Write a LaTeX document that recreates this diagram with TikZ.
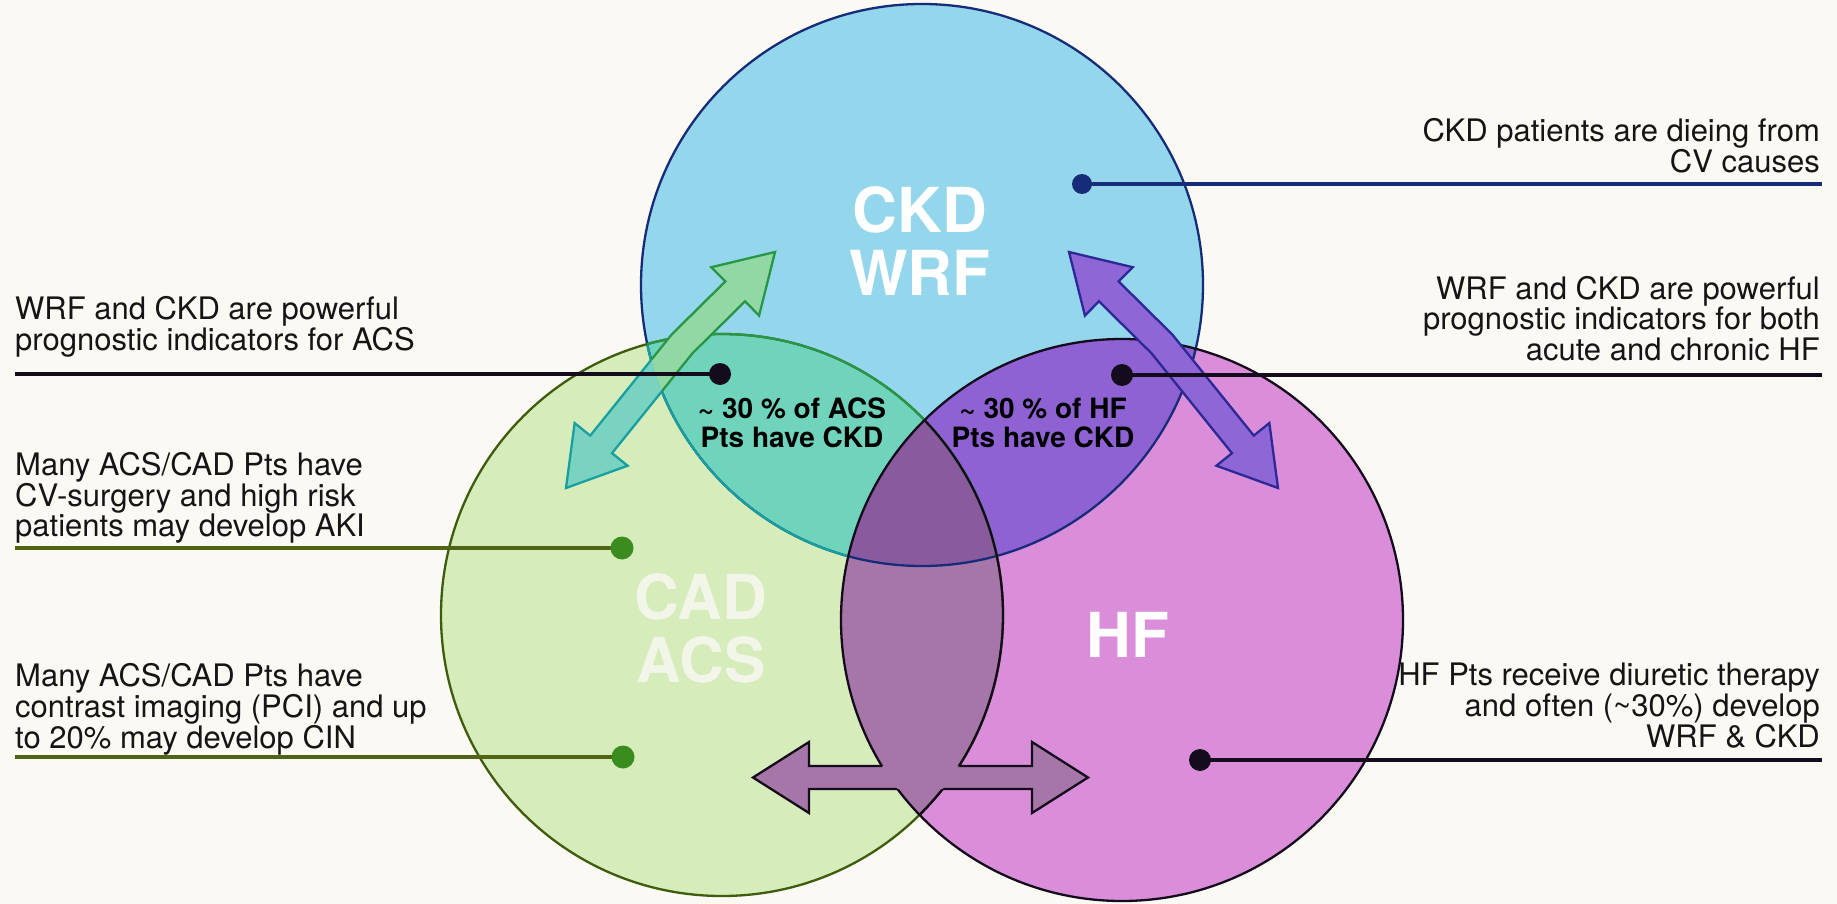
\documentclass[tikz,border=0pt]{standalone}
\usepackage{fontspec}
\setmainfont{TeX Gyre Heros}
\usetikzlibrary{calc}
\definecolor{bg}{RGB}{251,249,243}
\definecolor{cblue}{RGB}{148,214,236}
\definecolor{cgreen}{RGB}{214,236,186}
\definecolor{cmag}{RGB}{218,142,218}
\definecolor{cbg}{RGB}{112,212,188}
\definecolor{cbm}{RGB}{142,98,210}
\definecolor{cgm}{RGB}{166,118,168}
\definecolor{cbgm}{RGB}{138,90,158}
\definecolor{lblue}{RGB}{22,44,120}
\definecolor{lgreen}{RGB}{62,92,14}
\definecolor{lgreen2}{RGB}{40,150,70}
\definecolor{lteal}{RGB}{24,160,160}
\definecolor{ldark}{RGB}{20,12,28}
\definecolor{arrG}{RGB}{146,216,164}
\definecolor{arrT}{RGB}{122,210,192}
\definecolor{arrP}{RGB}{142,102,214}
\definecolor{arrPl}{RGB}{44,40,150}
\definecolor{dotG}{RGB}{58,140,30}
\definecolor{ruleG}{RGB}{80,100,20}
\definecolor{txt}{RGB}{22,20,20}
\definecolor{paleW}{RGB}{242,246,233}

% bent double arrow: #1 prefix, #2 lower tip, #3 bend, #4 upper tip, #5 shaft half width, #6 head half width, #7 head length
\newcommand\mkbent[7]{%
 \coordinate (#1db) at ($(#2)!#7!(#3)$);
 \coordinate (#1ub) at ($(#4)!#7!(#3)$);
 \coordinate (#1dh1) at ($(#1db)!#6!90:(#3)$);
 \coordinate (#1dh2) at ($(#1db)!#6!-90:(#3)$);
 \coordinate (#1ds1) at ($(#1db)!#5!90:(#3)$);
 \coordinate (#1ds2) at ($(#1db)!#5!-90:(#3)$);
 \coordinate (#1kd1) at ($(#3)!#5!-90:(#2)$);
 \coordinate (#1kd2) at ($(#3)!#5!90:(#2)$);
 \coordinate (#1ku1) at ($(#3)!#5!90:(#4)$);
 \coordinate (#1ku2) at ($(#3)!#5!-90:(#4)$);
 \coordinate (#1us1) at ($(#1ub)!#5!90:(#4)$);
 \coordinate (#1us2) at ($(#1ub)!#5!-90:(#4)$);
 \coordinate (#1uh1) at ($(#1ub)!#6!90:(#4)$);
 \coordinate (#1uh2) at ($(#1ub)!#6!-90:(#4)$);
 \coordinate (#1m1) at (intersection of #1ds1--#1kd1 and #1ku1--#1us1);
 \coordinate (#1m2) at (intersection of #1ds2--#1kd2 and #1ku2--#1us2);
}
\newcommand\bentdraw[4]{%
 \path[#4] (#2) -- (#1dh1) -- (#1ds1) -- (#1m1) -- (#1us1) -- (#1uh1) -- (#3) -- (#1uh2) -- (#1us2) -- (#1m2) -- (#1ds2) -- (#1dh2) -- cycle;
}
% straight double arrow
\newcommand\mkdblarrow[6]{%
 \coordinate (#1b) at ($(#2)!#6!(#3)$);
 \coordinate (#1e) at ($(#3)!#6!(#2)$);
 \coordinate (#1p1) at ($(#1b)!#5!90:(#3)$);
 \coordinate (#1p2) at ($(#1b)!#4!90:(#3)$);
 \coordinate (#1p3) at ($(#1e)!#4!90:(#3)$);
 \coordinate (#1p4) at ($(#1e)!#5!90:(#3)$);
 \coordinate (#1p5) at ($(#1e)!#5!-90:(#3)$);
 \coordinate (#1p6) at ($(#1e)!#4!-90:(#3)$);
 \coordinate (#1p7) at ($(#1b)!#4!-90:(#3)$);
 \coordinate (#1p8) at ($(#1b)!#5!-90:(#3)$);
}
\newcommand\dblarrowdraw[4]{%
 \path[#4] (#2) -- (#1p1) -- (#1p2) -- (#1p3) -- (#1p4) -- (#3) -- (#1p5) -- (#1p6) -- (#1p7) -- (#1p8) -- cycle;
}

\begin{document}
\begin{tikzpicture}[x=1pt,y=-1pt,
  lt/.style={inner sep=0pt, align=left, text=txt, font=\fontsize{31}{28}\selectfont},
  rt/.style={inner sep=0pt, align=right, text=txt, font=\fontsize{31}{28}\selectfont},
  bigl/.style={inner sep=0pt, align=center, font=\bfseries\fontsize{62}{63}\selectfont},
  innl/.style={inner sep=0pt, align=center, text=black, font=\bfseries\fontsize{28}{29}\selectfont},
  rulel/.style={line width=3.2pt},
  dotn/.style={circle, inner sep=0pt, minimum size=#1},
  outl/.style={line width=2.3pt, line join=miter}
]
\def\R{281pt}
\useasboundingbox (0,0) rectangle (1837,904);
\fill[bg] (0,0) rectangle (1837,904);

\coordinate (cB) at (922,285);
\coordinate (cG) at (722,615);
\coordinate (cM) at (1122,620);

% fills
\fill[cblue] (cB) circle (\R);
\fill[cgreen] (cG) circle (\R);
\fill[cmag] (cM) circle (\R);
\begin{scope}\clip (cG) circle (\R); \fill[cgm] (cM) circle (\R);\end{scope}
\begin{scope}
 \clip (cB) circle (\R);
 \fill[cbg] (cG) circle (\R);
 \fill[cbm] (cM) circle (\R);
 \clip (cG) circle (\R);
 \fill[cbgm] (cM) circle (\R);
\end{scope}

% outlines
\draw[outl, lblue] (cB) circle (\R);
\begin{scope}
 \clip (cG) circle (\R);
 \begin{scope}[even odd rule]
  \clip (0,0) rectangle (1837,904) (cM) circle (\R);
  \draw[outl, lteal] (cB) circle (\R);
 \end{scope}
\end{scope}
\draw[outl, lgreen] (cG) circle (\R);
\begin{scope}\clip (cB) circle (\R); \draw[outl, lgreen2] (cG) circle (\R);\end{scope}
\begin{scope}\clip (cM) circle (\R); \draw[outl, ldark] (cG) circle (\R);\end{scope}
\draw[outl, ldark] (cM) circle (\R);

% green/teal bent double arrow
\coordinate (gD) at (566,488);
\coordinate (gK) at (682,344);
\coordinate (gU) at (775,252);
\mkbent{ga}{gD}{gK}{gU}{14pt}{34pt}{56pt}
\begin{scope}
 \clip (cB) circle (\R);
 \bentdraw{ga}{gD}{gU}{fill=arrG, draw=lgreen2, outl}
\end{scope}
\begin{scope}[even odd rule]
 \clip (0,0) rectangle (1837,904) (cB) circle (\R);
 \bentdraw{ga}{gD}{gU}{fill=arrT, draw=lteal, outl, nonzero rule}
\end{scope}

% purple bent double arrow
\coordinate (pD) at (1278,488);
\coordinate (pK) at (1162,344);
\coordinate (pU) at (1069,252);
\mkbent{pa}{pD}{pK}{pU}{14pt}{34pt}{56pt}
\bentdraw{pa}{pD}{pU}{fill=arrP, draw=arrPl, outl}

% bottom double arrow merged with the lens
\coordinate (bA1) at (753,777.5);
\coordinate (bA2) at (1088,777.5);
\mkdblarrow{ba}{bA1}{bA2}{11.5pt}{35.5pt}{56pt}
\dblarrowdraw{ba}{bA1}{bA2}{fill=cgm}
\begin{scope}[even odd rule]
 \clip (0,0) rectangle (1837,904) (cG) circle (\R);
 \dblarrowdraw{ba}{bA1}{bA2}{draw=ldark, outl, nonzero rule}
\end{scope}
\begin{scope}
 \clip (cG) circle (\R);
 \begin{scope}[even odd rule]
  \clip (0,0) rectangle (1837,904) (cM) circle (\R);
  \dblarrowdraw{ba}{bA1}{bA2}{draw=ldark, outl, nonzero rule}
 \end{scope}
\end{scope}

% dots and rules
\node[dotn=20pt] (dB) at (1082,184) {};
\node[dotn=22pt] (dA) at (720,374) {};
\node[dotn=22pt] (dH) at (1122,375) {};
\node[dotn=23pt] (dK) at (622,548) {};
\node[dotn=23pt] (dC) at (623,757) {};
\node[dotn=22pt] (dD) at (1200,760) {};
\coordinate (eB) at (1822,184);
\coordinate (eA) at (15,374);
\coordinate (eH) at (1822,375);
\coordinate (eK) at (15,548);
\coordinate (eC) at (15,757);
\coordinate (eD) at (1822,760);
\draw[rulel, lblue] (dB.center) -- (eB);
\draw[rulel, ldark] (dA.center) -- (eA);
\draw[rulel, ldark] (dH.center) -- (eH);
\draw[rulel, ruleG] (dK.center) -- (eK);
\draw[rulel, ruleG] (dC.center) -- (eC);
\draw[rulel, ldark] (dD.center) -- (eD);
\fill[lblue] (dB) circle (10pt);
\fill[ldark] (dA) circle (11pt);
\fill[ldark] (dH) circle (11pt);
\fill[dotG] (dK) circle (11.5pt);
\fill[dotG] (dC) circle (11.5pt);
\fill[ldark] (dD) circle (11pt);

% big labels
\node[bigl, text=white, anchor=north] (lCKD) at (920,186) {CKD\\WRF};
\node[bigl, text=paleW, anchor=north] (lCAD) at (701,573) {CAD\\ACS};
\node[bigl, text=white, anchor=north] (lHF) at (1128,612) {HF};

% inner labels
\node[innl, anchor=north] (iA) at (792,398) {\textasciitilde{} 30 \% of ACS\\Pts have CKD};
\node[innl, anchor=north] (iH) at (1043,398) {\textasciitilde{} 30 \% of HF\\Pts have CKD};

% side texts
\node[lt, anchor=north west] (tL1) at (15,296) {WRF and CKD are powerful\\prognostic indicators for ACS};
\node[lt, anchor=north west] (tL2) at (15,452) {Many ACS/CAD Pts have\\CV-surgery and high risk\\patients may develop AKI};
\node[lt, anchor=north west] (tL3) at (15,663) {Many ACS/CAD Pts have\\contrast imaging (PCI) and up\\to 20\% may develop CIN};
\node[rt, anchor=north east] (tR1) at (1820,118) {CKD patients are dieing from\\CV causes};
\node[rt, anchor=north east] (tR2) at (1820,276) {WRF and CKD are powerful\\prognostic indicators for both\\acute and chronic HF};
\node[rt, anchor=north east] (tR3) at (1820,663) {HF Pts receive diuretic therapy\\and often (\textasciitilde30\%) develop\\WRF \& CKD};
\end{tikzpicture}
\end{document}
